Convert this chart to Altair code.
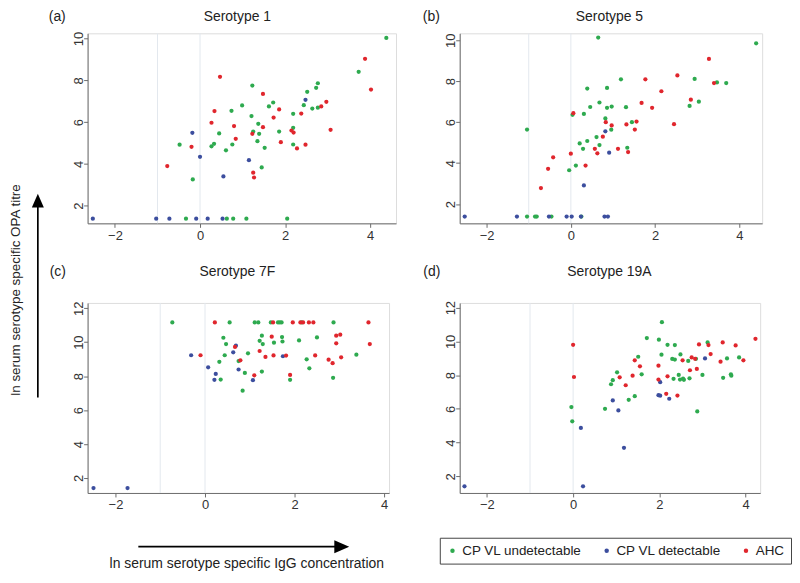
import altair as alt
import pandas as pd

GROUPS = ["CP VL undetectable", "CP VL detectable", "AHC"]
COLORS = ["#2eaa4f", "#3c4e9e", "#e0262d"]
TITLES = ["Serotype 1", "Serotype 5", "Serotype 7F", "Serotype 19A"]
TAGS = ["(a)", "(b)", "(c)", "(d)"]
X_TICKS = [-2, 0, 2, 4]
Y_TICKS_TOP = [2, 4, 6, 8, 10]
Y_TICKS_BOTTOM = [2, 4, 6, 8, 10, 12]
REF_LINES = [-1, 0]
Y_LABEL = "ln serum serotype specific OPA titre"
X_LABEL = "ln serum serotype specific IgG concentration"

# ---- Serotype 1 ----
S1_UNDET = [(4.38, 10.03), (3.73, 8.41), (2.77, 7.86), (2.73, 7.64), (2.52, 7.45), (2.77, 6.69),
            (2.64, 6.65), (2.44, 6.81), (2.19, 6.40), (2.19, 5.73), (2.19, 4.93), (1.86, 5.55),
            (1.72, 6.94), (1.62, 6.75), (1.23, 7.75), (0.99, 6.80), (1.21, 6.29), (1.37, 5.92),
            (1.25, 5.55), (1.39, 5.44), (1.35, 5.09), (1.52, 4.77), (1.45, 3.83), (0.74, 6.54),
            (0.45, 5.46), (0.76, 4.93), (0.33, 4.96), (0.27, 4.84), (0.61, 4.65), (-0.48, 4.92),
            (-0.17, 3.26), (-0.33, 1.38), (0.63, 1.38), (0.78, 1.38), (1.09, 1.38), (2.05, 1.38)]
S1_DET = [(2.48, 7.07), (1.15, 4.18), (0.00, 4.34), (-0.18, 5.49), (0.55, 3.40), (-2.52, 1.38),
          (-1.03, 1.38), (-0.72, 1.38), (-0.09, 1.38), (0.18, 1.38), (0.53, 1.38)]
S1_AHC = [(3.88, 9.03), (4.02, 7.56), (2.97, 6.97), (2.85, 6.75), (3.07, 5.63), (2.38, 6.41),
          (2.15, 5.60), (2.20, 5.50), (2.28, 4.74), (2.48, 4.92), (1.86, 6.61), (1.73, 6.22),
          (1.48, 7.35), (1.48, 5.76), (1.90, 5.04), (1.23, 5.44), (1.25, 3.58), (1.27, 3.35),
          (0.47, 8.17), (0.34, 6.53), (0.27, 5.97), (0.80, 5.81), (0.84, 5.20), (-0.20, 4.82),
          (-0.77, 3.90)]

# ---- Serotype 5 ----
S5_UNDET = [(4.40, 9.85), (0.65, 10.13), (2.94, 8.11), (3.47, 7.94), (3.69, 7.91), (3.04, 7.00),
            (2.82, 6.79), (1.19, 8.09), (0.86, 7.67), (0.39, 7.64), (0.68, 6.96), (0.46, 6.74),
            (0.97, 6.76), (0.86, 6.70), (1.31, 6.73), (0.31, 6.40), (0.04, 6.36), (0.82, 6.18),
            (0.96, 5.63), (1.45, 6.00), (0.61, 5.27), (0.39, 5.08), (0.21, 4.96), (0.29, 4.70),
            (0.68, 4.88), (1.34, 4.75), (0.12, 3.88), (-0.04, 3.65), (-1.04, 5.64), (-1.04, 1.39),
            (-0.85, 1.39), (-0.81, 1.39), (-0.46, 1.39), (0.25, 1.39)]
S5_DET = [(0.82, 5.55), (0.91, 4.51), (0.31, 2.91), (-2.52, 1.39), (-1.28, 1.39), (-0.52, 1.39),
          (-0.10, 1.39), (0.02, 1.39), (0.24, 1.39), (0.80, 1.39), (0.88, 1.39)]
S5_AHC = [(3.28, 9.09), (3.40, 7.91), (2.53, 8.28), (2.85, 7.10), (2.45, 5.90), (2.15, 7.51),
          (1.93, 6.70), (1.77, 8.09), (1.68, 6.94), (1.56, 6.03), (1.52, 5.64), (1.32, 5.89),
          (1.36, 4.54), (1.12, 4.70), (0.83, 6.00), (0.97, 5.84), (0.76, 5.29), (0.57, 4.70),
          (0.63, 4.48), (0.06, 6.44), (0.00, 4.46), (0.35, 3.88), (-0.42, 4.28), (-0.54, 3.72),
          (-0.71, 2.78)]

# ---- Serotype 7F ----
S7F_UNDET = [(-0.73, 11.16), (0.55, 11.16), (1.11, 11.16), (1.19, 11.16), (1.47, 11.16), (1.63, 11.16),
             (1.67, 11.16), (1.71, 11.16), (2.16, 11.16), (2.87, 11.16), (0.41, 10.26), (0.47, 9.89),
             (0.44, 9.23), (0.32, 8.84), (0.35, 7.80), (0.96, 9.34), (0.89, 8.19), (0.84, 7.14),
             (1.22, 10.08), (1.27, 10.38), (1.29, 9.89), (1.27, 8.27), (1.54, 9.97), (1.72, 10.30),
             (1.73, 10.04), (2.10, 10.10), (1.90, 7.78), (2.27, 8.99), (2.33, 8.46), (2.50, 10.28),
             (2.86, 7.90), (3.38, 9.26), (0.75, 8.89)]
S7F_DET = [(-0.31, 9.23), (0.07, 8.52), (0.24, 8.13), (0.21, 7.78), (0.63, 9.40), (0.69, 9.79),
           (0.75, 8.39), (1.07, 7.76), (1.74, 9.17), (-2.49, 1.41), (-1.73, 1.41)]
S7F_AHC = [(0.22, 11.16), (1.52, 11.16), (1.96, 11.16), (2.13, 11.16), (2.19, 11.16), (2.32, 11.16),
           (2.42, 11.16), (3.65, 11.16), (1.49, 10.32), (1.22, 9.48), (1.53, 9.22), (1.35, 9.13),
           (1.81, 9.21), (0.79, 8.93), (0.67, 9.72), (-0.10, 9.23), (1.10, 8.05), (1.90, 8.07),
           (2.46, 9.22), (2.76, 8.97), (2.85, 8.76), (2.93, 10.38), (3.02, 10.44), (2.93, 9.93),
           (3.04, 9.11), (3.68, 9.89)]

# ---- Serotype 19A ----
S19A_UNDET = [(2.06, 11.14), (1.71, 10.20), (1.99, 10.10), (2.19, 9.80), (2.36, 9.78), (2.05, 9.21),
              (2.49, 9.23), (2.30, 8.96), (2.36, 8.92), (2.67, 8.84), (2.85, 8.97), (3.12, 9.94),
              (3.57, 8.99), (3.85, 9.05), (2.45, 8.01), (2.33, 7.78), (2.48, 7.74), (2.55, 7.80),
              (2.57, 7.72), (2.70, 7.81), (3.00, 8.01), (3.48, 7.84), (3.66, 8.05), (3.67, 7.97),
              (2.88, 5.85), (1.59, 8.05), (1.51, 9.09), (1.02, 8.17), (0.92, 7.70), (0.88, 7.46),
              (1.43, 6.75), (1.29, 6.54), (0.74, 6.00), (-0.04, 6.11), (-0.02, 5.26)]
S19A_DET = [(3.06, 8.99), (2.02, 7.58), (1.98, 6.81), (2.02, 6.78), (2.23, 6.60), (0.92, 6.50),
            (1.05, 5.91), (0.18, 4.87), (1.18, 3.69), (0.23, 1.41), (-2.52, 1.41)]
S19A_AHC = [(4.23, 10.15), (3.47, 9.94), (3.77, 9.76), (2.92, 9.82), (3.14, 9.78), (3.19, 9.25),
            (2.75, 9.05), (2.83, 8.97), (2.54, 8.88), (3.42, 8.80), (3.95, 8.88), (1.43, 8.88),
            (1.55, 8.52), (1.98, 8.56), (1.08, 7.87), (1.38, 7.97), (1.22, 7.40), (2.71, 8.29),
            (2.87, 8.37), (1.98, 7.74), (2.19, 7.93), (2.16, 6.89), (2.42, 6.79), (0.00, 9.80),
            (0.02, 7.89)]

PANEL_DATA = [
    (S1_UNDET, S1_DET, S1_AHC),
    (S5_UNDET, S5_DET, S5_AHC),
    (S7F_UNDET, S7F_DET, S7F_AHC),
    (S19A_UNDET, S19A_DET, S19A_AHC),
]
X_DOMAINS = [[-2.643, 4.608], [-2.639, 4.543], [-2.622, 4.11], [-2.631, 4.339]]
Y_DOMAINS = [[1.157, 10.25], [1.057, 10.34], [1.12, 12.31], [1.015, 12.28]]
WIDTHS = [310, 304, 303, 302]
HEIGHT = 191
TITLE_Y = [-16, -16, -31, -31]
TAG_X = [-30.5, -28.5, -30, -28]

FONT = "Liberation Sans"
AXIS_GREY = "#6c6c6c"


def make_panel(i):
    rows = []
    for g, pts in zip(GROUPS, PANEL_DATA[i]):
        for x, y in pts:
            rows.append({"x": x, "y": y, "group": g})
    df = pd.DataFrame(rows)
    yticks = Y_TICKS_TOP if i < 2 else Y_TICKS_BOTTOM
    xscale = alt.Scale(domain=X_DOMAINS[i], nice=False, zero=False)
    yscale = alt.Scale(domain=Y_DOMAINS[i], nice=False, zero=False)

    refs = alt.Chart(pd.DataFrame({"x": REF_LINES})).mark_rule(
        color="#e3e8ee", strokeWidth=1
    ).encode(x=alt.X("x:Q", scale=xscale))

    pts = alt.Chart(df).mark_circle(size=18, opacity=1).encode(
        x=alt.X("x:Q", scale=xscale, title=None,
                axis=alt.Axis(values=X_TICKS, grid=False, domainColor=AXIS_GREY,
                              tickColor=AXIS_GREY, tickSize=4, labelPadding=2,
                              labelFontSize=13, labelFont=FONT, labelColor="#333",
                              labelFlush=False, labelOverlap=False)),
        y=alt.Y("y:Q", scale=yscale, title=None,
                axis=alt.Axis(values=yticks, grid=False, domainColor=AXIS_GREY,
                              tickColor=AXIS_GREY, tickSize=4, labelPadding=1,
                              labelAngle=270, labelAlign="center", labelBaseline="alphabetic",
                              labelFontSize=13, labelFont=FONT, labelColor="#333",
                              labelFlush=False, labelOverlap=False)),
        color=alt.Color("group:N", scale=alt.Scale(domain=GROUPS, range=COLORS),
                        legend=alt.Legend(title=None, orient="none", legendX=354, legendY=507,
                                          direction="horizontal", strokeColor="#444",
                                          fillColor="white", padding=6, symbolType="circle",
                                          symbolSize=20, symbolStrokeWidth=0, symbolOpacity=1,
                                          labelFontSize=13.5, labelFont=FONT, labelColor="#222",
                                          columnPadding=18, labelOffset=3)),
    )

    title = alt.Chart(pd.DataFrame({"t": [TITLES[i]]})).mark_text(
        fontSize=14, font=FONT, color="#222", align="center", baseline="middle"
    ).encode(text="t:N", x=alt.value(150.5), y=alt.value(TITLE_Y[i]))
    tag = alt.Chart(pd.DataFrame({"t": [TAGS[i]]})).mark_text(
        fontSize=14, font=FONT, color="#222", align="center", baseline="middle"
    ).encode(text="t:N", x=alt.value(TAG_X[i]), y=alt.value(TITLE_Y[i]))

    layers = [refs, pts, title, tag]

    if i == 0:
        ylab = alt.Chart(pd.DataFrame({"t": [Y_LABEL]})).mark_text(
            fontSize=13.5, font=FONT, color="#222", angle=270, align="center", baseline="middle"
        ).encode(text="t:N", x=alt.value(-72), y=alt.value(258))
        yline = alt.Chart(pd.DataFrame({"t": [0]})).mark_rule(color="black", strokeWidth=1.7).encode(
            x=alt.value(-50), y=alt.value(172), y2=alt.value(366))
        yhead = alt.Chart(pd.DataFrame({"t": [0]})).mark_point(
            shape="M-1,1L1,1L0,-1.3Z", size=144, filled=True, color="black", opacity=1
        ).encode(x=alt.value(-50), y=alt.value(169))
        layers += [ylab, yline, yhead]
    if i == 2:
        xlab = alt.Chart(pd.DataFrame({"t": [X_LABEL]})).mark_text(
            fontSize=14, font=FONT, color="#222", align="center", baseline="middle"
        ).encode(text="t:N", x=alt.value(160), y=alt.value(262))
        xline = alt.Chart(pd.DataFrame({"t": [0]})).mark_rule(color="black", strokeWidth=1.7).encode(
            x=alt.value(51), x2=alt.value(252), y=alt.value(245))
        xhead = alt.Chart(pd.DataFrame({"t": [0]})).mark_point(
            shape="M-1,-1L-1,1L1.3,0Z", size=169, filled=True, color="black", opacity=1
        ).encode(x=alt.value(254.5), y=alt.value(245))
        layers += [xlab, xline, xhead]

    return alt.layer(*layers).properties(width=WIDTHS[i], height=HEIGHT)


panels = [make_panel(i) for i in range(4)]
chart = alt.concat(*panels, columns=2, spacing={"column": 64, "row": 80}, bounds="flush").properties(
    padding={"left": 0, "top": 0, "right": 0, "bottom": 0}
).configure_view(stroke=None).configure(background="white")

chart.save("out.html", embed_options={"renderer": "svg", "actions": False})
